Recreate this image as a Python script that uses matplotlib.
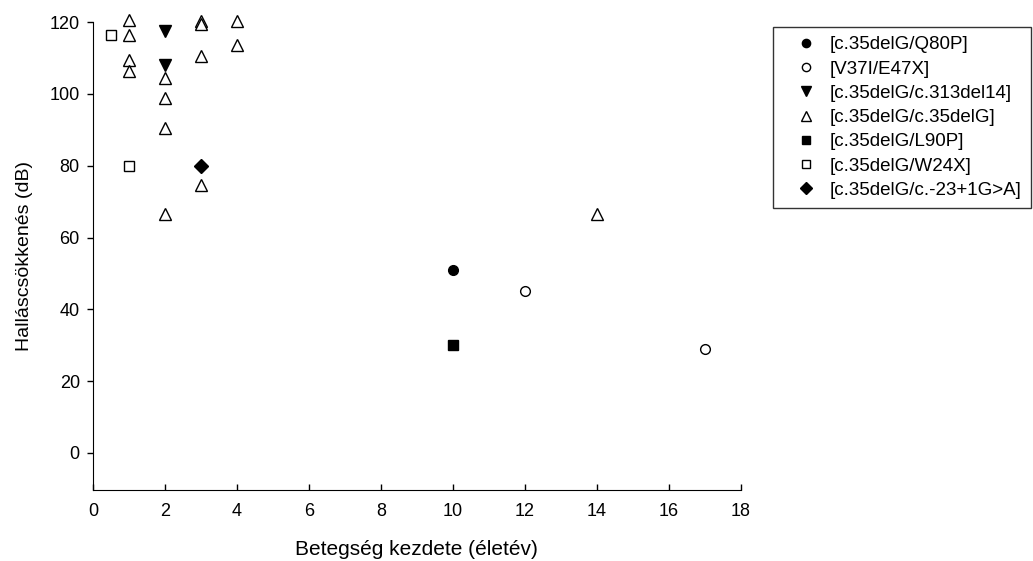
import matplotlib
matplotlib.use("Agg")
import matplotlib.pyplot as plt

plt.rcParams['font.family'] = ['Liberation Sans', 'DejaVu Sans']

labels = ["[c.35delG/Q80P]", "[V37I/E47X]", "[c.35delG/c.313del14]",
          "[c.35delG/c.35delG]", "[c.35delG/L90P]", "[c.35delG/W24X]",
          "[c.35delG/c.-23+1G>A]"]

q80p_x = [10]
q80p_y = [51]
v37i_x = [12, 17]
v37i_y = [45, 29]
del14_x = [2, 2]
del14_y = [117.5, 108]
homo_x = [1, 1, 1, 1, 2, 2, 2, 2, 3, 3, 3, 3, 4, 4, 14]
homo_y = [120.5, 116.5, 109.5, 106.5, 104.5, 99, 90.5, 66.5,
          120.3, 119.5, 110.5, 74.5, 120.3, 113.5, 66.5]
l90p_x = [10]
l90p_y = [30]
w24x_x = [0.5, 1]
w24x_y = [116.5, 80]
splice_x = [3]
splice_y = [80]

series = [
    (q80p_x, q80p_y, 'o', 'black'),
    (v37i_x, v37i_y, 'o', 'white'),
    (del14_x, del14_y, 'v', 'black'),
    (homo_x, homo_y, '^', 'white'),
    (l90p_x, l90p_y, 's', 'black'),
    (w24x_x, w24x_y, 's', 'white'),
    (splice_x, splice_y, 'D', 'black'),
]

fig = plt.figure(figsize=(10.33, 5.61), dpi=100)
ax = fig.add_axes([0.090, 0.1266, 0.627, 0.834])

sizes = {'o': 7, 'v': 8, '^': 8, 's': 7.5, 'D': 7}
for (xs, ys, m, fc), lab in zip(series, labels):
    ax.plot(xs, ys, linestyle='none', marker=m, markersize=sizes[m],
            markerfacecolor=fc, markeredgecolor='black', markeredgewidth=1,
            label=lab, clip_on=False)

ax.set_xlim(0, 18)
ax.set_ylim(-10.3, 120)
ax.set_xticks(range(0, 19, 2))
ax.set_yticks(range(0, 121, 20))
ax.spines['top'].set_visible(False)
ax.spines['right'].set_visible(False)
ax.tick_params(axis='y', direction='out', length=4.5, width=1, labelsize=13, pad=5)
ax.tick_params(axis='x', direction='in', length=4, width=1, labelsize=13, pad=9.5)
ax.set_xlabel("Betegség kezdete (életév)", fontsize=15, labelpad=14)
ax.set_ylabel("Halláscsökkenés (dB)", fontsize=14, labelpad=12)

leg = fig.legend(loc='upper left', bbox_to_anchor=(0.748, 0.952),
                 fontsize=13.5, frameon=True, fancybox=False,
                 edgecolor='black', borderpad=0.5, labelspacing=0.38,
                 handlelength=2.55, handletextpad=0.0, borderaxespad=0,
                 markerscale=0.85)
leg.get_frame().set_linewidth(1)

fig.savefig("out.png", dpi=100)
